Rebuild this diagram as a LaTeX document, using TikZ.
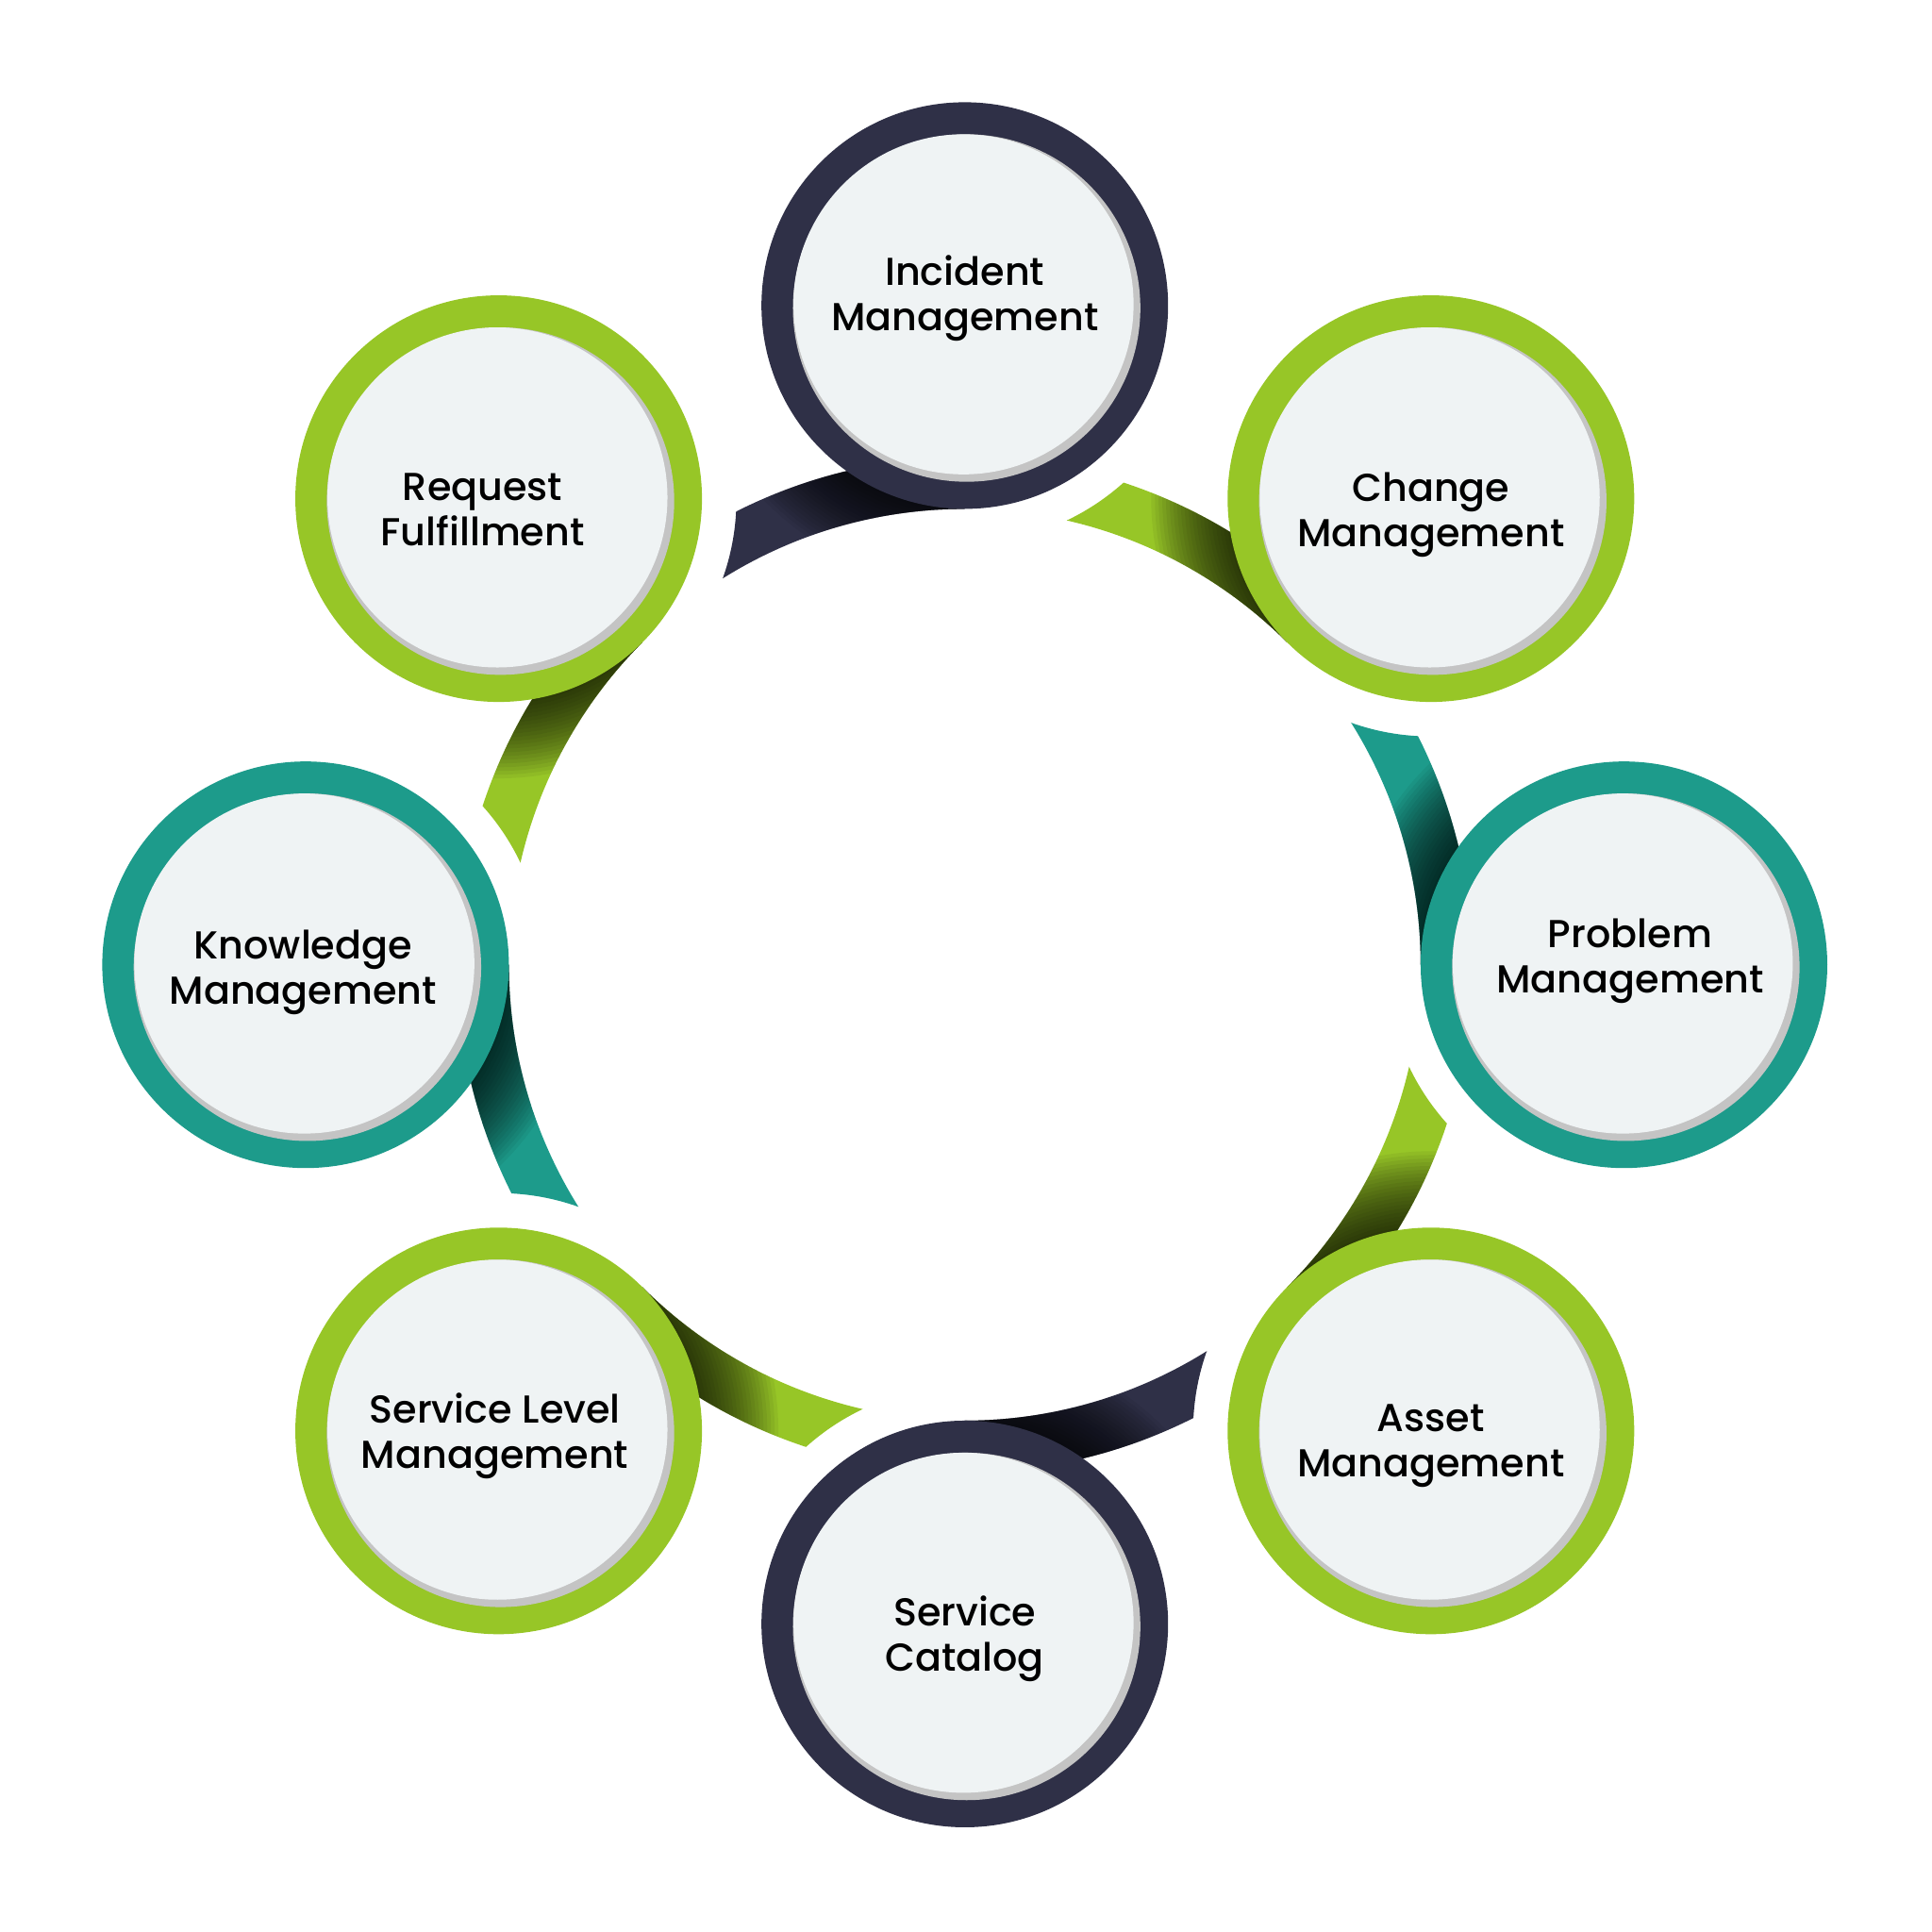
\documentclass[tikz,border=0pt]{standalone}
\usepackage{fontspec}
\newfontfamily\poppins{Poppins Medium}
\usetikzlibrary{calc}
\definecolor{ringnavy}{RGB}{47, 48, 71}
\definecolor{ringgreen}{RGB}{151, 198, 39}
\definecolor{ringteal}{RGB}{29, 155, 139}
\definecolor{diskgrey}{RGB}{239, 243, 244}
\definecolor{rimgrey}{RGB}{196, 196, 196}

\tikzset{
  ring/.style={circle, inner sep=0pt, minimum size=3.3cm},
  rim/.style={circle, inner sep=0pt, minimum size=2.82cm, fill=rimgrey},
  disk/.style={circle, inner sep=0pt, minimum size=2.76cm, fill=diskgrey},
  bandshadow/.style={fill=black, opacity=0.05},
  labeltext/.style={align=center, font=\poppins\fontsize{9}{10.45}\selectfont, text=black}
}

\begin{document}
\begin{tikzpicture}
  \useasboundingbox (-7.83,-7.85) rectangle (7.85,7.83);

  % ── Bands between the rings ─────────────────────────────────────
  \foreach \ang/\prev/\col in {90/135/ringnavy, 45/90/ringgreen, 0/45/ringteal,
    -45/0/ringgreen, -90/-45/ringnavy, -135/-90/ringgreen, 180/225/ringteal, 135/180/ringgreen}{
    \begin{scope}[even odd rule]
      \clip (-8,-8) rectangle (8,8) (\prev:5.35) circle (1.93);
      \clip (\ang+40:4.12) arc[start angle=\ang+40, end angle=\ang, radius=4.12]
        -- (\ang:3.70) arc[start angle=\ang, end angle=\ang+40, radius=3.70] -- cycle;
      \fill[\col] (-8,-8) rectangle (8,8);
      % shadow where the band slips under the ring
      \foreach \r in {1.67,1.70,...,2.28}
        \fill[bandshadow] (\ang:5.35) circle (\r);
    \end{scope}
  }

  % ── Rings with their labels ─────────────────────────────────────
  \foreach \ang/\nm/\col/\dx/\dy/\txt in {
    90/inc/ringnavy/0/0.06/Incident\\Management,
    45/chg/ringgreen/0/-0.13/Change\\Management,
    0/prb/ringteal/0.05/0.03/Problem\\Management,
    -45/ast/ringgreen/0/-0.12/Asset\\Management,
    -90/cat/ringnavy/0/-0.12/Service\\Catalog,
    -135/slm/ringgreen/-0.03/-0.04/Service Level\\Management,
    180/kno/ringteal/-0.02/-0.06/Knowledge\\Management,
    135/req/ringgreen/-0.13/-0.09/Request\\Fulfillment}{
    \node[ring, fill=\col] (\nm) at (\ang:5.35) {};
    \node[rim] (\nm-rim) at ([shift={(0.015,-0.02)}]\nm.center) {};
    \node[disk] (\nm-disk) at ([shift={(-0.01,0.01)}]\nm.center) {};
    \node[labeltext] (\nm-text) at ([shift={(\dx,\dy)}]\nm.center) {\txt};
  }
\end{tikzpicture}
\end{document}
